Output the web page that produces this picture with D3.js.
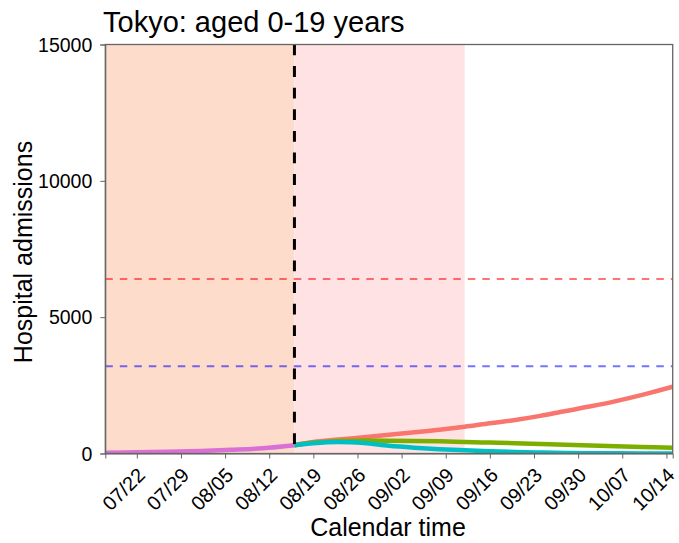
<!DOCTYPE html>
<html>
<head>
<meta charset="utf-8">
<script src="https://cdn.jsdelivr.net/npm/d3@7"></script>
<style>
  body { margin: 0; background: #fff; }
  text { font-family: "Liberation Sans", Arial, sans-serif; fill: #000; }
</style>
</head>
<body>
<div id="okvir"></div>
<script>
// podatci
const naslov = "Tokyo: aged 0-19 years";
const yTicks = [0, 5000, 10000, 15000];
const xTicks = ["07/22","07/29","08/05","08/12","08/19","08/26","09/02","09/09","09/16","09/23","09/30","10/07","10/14"];
const pocetak = "07/17", kraj = "10/15";
const rez = "08/16";          // vertikalna crta
const roza_kraj = "09/12";    // kraj rozog podrucja
const pragCrveni = 6400, pragPlavi = 3200;

const datumiPrije = ["07/17","07/22","07/27","08/01","08/06","08/11","08/16"];
const ljubicasta = [25, 42, 62, 95, 135, 190, 300];

const datumiPoslije = ["08/16","08/19","08/23","08/27","08/31","09/04","09/08","09/12","09/16","09/20","09/24","09/28","10/02","10/06","10/10","10/15"];
const crvena =  [305, 420, 510, 600, 690, 780, 870, 980, 1110, 1230, 1380, 1560, 1730, 1920, 2140, 2450];
const zelena =  [305, 400, 460, 475, 470, 460, 445, 420, 400, 380, 350, 320, 290, 265, 240, 210];
const cijan =   [305, 380, 425, 385, 285, 215, 160, 120, 85, 55, 35, 18, 10, 5, 2, 0];

const crtajGraf = () => {
  const parse = d3.timeParse("%m/%d");
  const format = d3.timeFormat("%m/%d");

  const dim = { width: 679, height: 543, margin: { top: 44.5, right: 6.3, bottom: 89.5, left: 105.3 } };
  dim.bw = dim.width - dim.margin.left - dim.margin.right;
  dim.bh = dim.height - dim.margin.top - dim.margin.bottom;

  const svg = d3.select("#okvir").append("svg")
    .attr("width", dim.width).attr("height", dim.height);

  const g = svg.append("g").attr("transform", `translate(${dim.margin.left},${dim.margin.top})`);

  const x = d3.scaleTime().domain([parse(pocetak), parse(kraj)]).range([0, dim.bw]);
  const y = d3.scaleLinear().domain([0, 15000]).range([dim.bh, 0]);

  g.append("defs").append("clipPath").attr("id", "clip")
    .append("rect").attr("width", dim.bw).attr("height", dim.bh);

  // pozadinska podrucja
  g.append("rect").attr("x", 0).attr("y", 0)
    .attr("width", x(parse(rez))).attr("height", dim.bh).attr("fill", "#FDDCCB");
  g.append("rect").attr("x", x(parse(rez))).attr("y", 0)
    .attr("width", x(parse(roza_kraj)) - x(parse(rez))).attr("height", dim.bh).attr("fill", "#FFE3E4");

  // pragovi
  [[pragCrveni, "#FF0000"], [pragPlavi, "#0000FF"]].forEach(([v, c]) => {
    g.append("line").attr("x1", 0).attr("x2", dim.bw)
      .attr("y1", y(v)).attr("y2", y(v))
      .attr("stroke", c).attr("stroke-opacity", 0.55)
      .attr("stroke-width", 2).attr("stroke-dasharray", "7.5,7");
  });

  const clip = g.append("g").attr("clip-path", "url(#clip)");
  const linija = d3.line().curve(d3.curveMonotoneX)
    .x(d => x(d[0])).y(d => y(d[1]));

  const serije = [
    [datumiPrije, ljubicasta, "#DA70D6"],
    [datumiPoslije, crvena, "#F8766D"],
    [datumiPoslije, zelena, "#7CAE00"],
    [datumiPoslije, cijan, "#00BFC4"]
  ];
  serije.forEach(([dat, vr, boja]) => {
    clip.append("path")
      .attr("d", linija(dat.map((d, i) => [parse(d), vr[i]])))
      .attr("fill", "none").attr("stroke", boja).attr("stroke-width", 4.5);
  });

  // vertikalna crta
  g.append("line").attr("x1", x(parse(rez))).attr("x2", x(parse(rez)))
    .attr("y1", 0).attr("y2", dim.bh)
    .attr("stroke", "#000").attr("stroke-width", 3).attr("stroke-dasharray", "10.8,10.8");

  // okvir
  g.append("rect").attr("width", dim.bw).attr("height", dim.bh)
    .attr("fill", "none").attr("stroke", "#666").attr("stroke-width", 1.3);

  // y os
  const yOs = g.append("g")
    .call(d3.axisLeft(y).tickValues(yTicks).tickSize(5).tickPadding(8).tickFormat(d3.format("d")));
  yOs.select(".domain").attr("stroke", "#666");
  yOs.selectAll(".tick line").attr("stroke", "#666");
  yOs.selectAll("text").attr("font-size", 19.5).attr("dy", "0.35em");

  // x os
  const xOs = g.append("g").attr("transform", `translate(0,${dim.bh})`)
    .call(d3.axisBottom(x).tickValues(xTicks.map(parse)).tickSize(5).tickFormat(format));
  xOs.select(".domain").attr("stroke", "#666");
  xOs.selectAll(".tick line").attr("stroke", "#666");
  xOs.selectAll("text")
    .attr("font-size", 20)
    .attr("text-anchor", "end")
    .attr("y", 0).attr("dy", "0.35em")
    .attr("transform", "translate(4,18) rotate(-45)");

  // naslovi
  svg.append("text").attr("x", 103).attr("y", 32)
    .attr("font-size", 29).text(naslov);
  svg.append("text").attr("x", dim.margin.left + dim.bw / 2 - 1).attr("y", 536)
    .attr("text-anchor", "middle").attr("font-size", 25).text("Calendar time");
  svg.append("text")
    .attr("transform", `translate(32,${dim.margin.top + dim.bh / 2 + 3}) rotate(-90)`)
    .attr("text-anchor", "middle").attr("font-size", 25).text("Hospital admissions");
};

crtajGraf();
</script>
</body>
</html>
